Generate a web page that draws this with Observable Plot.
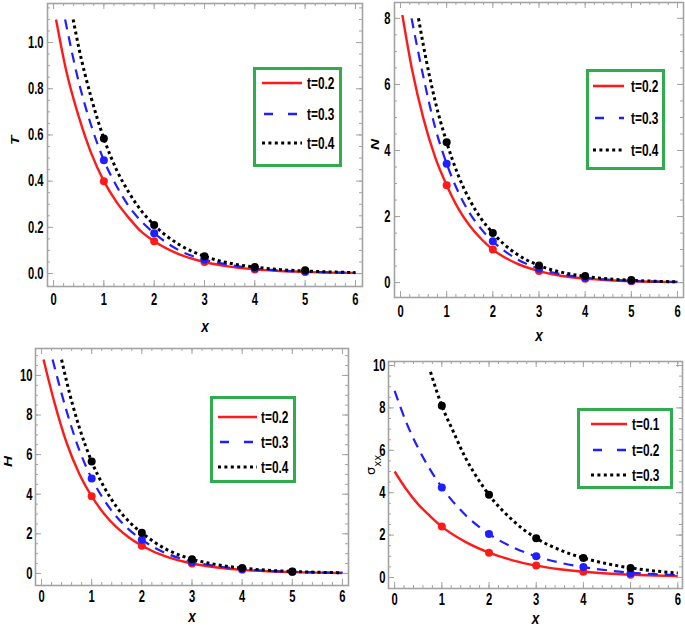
<!DOCTYPE html>
<html><head><meta charset="utf-8">
<script src="https://cdn.jsdelivr.net/npm/d3@7"></script>
<script src="https://cdn.jsdelivr.net/npm/@observablehq/plot@0.6"></script>
<style>
body{margin:0;background:#fff;}
#root{position:relative;width:685px;height:629px;overflow:hidden;background:#fff;}
#root svg.pl{position:absolute;}
.leg{position:absolute;border:3px solid #2fac4c;background:#fff;box-sizing:border-box;}
.leg svg{position:absolute;left:0;top:0;}
</style></head><body><div id="root"></div>
<script>
const FONT = '"Liberation Sans",Arial,sans-serif';
const dotX = [1, 2, 3, 4, 5];
const labelsA = ["t=0.2", "t=0.3", "t=0.4"];
const labelsS = ["t=0.1", "t=0.2", "t=0.3"];
const xTicks = [0, 1, 2, 3, 4, 5, 6];
const T_yTicks = [0, 0.2, 0.4, 0.6, 0.8, 1.0];
const N_yTicks = [0, 2, 4, 6, 8];
const H_yTicks = [0, 2, 4, 6, 8, 10];
const S_yTicks = [0, 2, 4, 6, 8, 10];

// Panel T
const T_red_x = [0.05,0.25,0.5,0.75,1,1.25,1.5,1.75,2,2.5,3,3.5,4,4.5,5,5.5,6];
const T_red_y = [1.10,0.88,0.68,0.52,0.40,0.31,0.24,0.18,0.14,0.083,0.05,0.03,0.018,0.011,0.007,0.004,0.003];
const T_blue_x = [0.23,0.5,0.75,1,1.25,1.5,1.75,2,2.5,3,3.5,4,4.5,5,5.5,6];
const T_blue_y = [1.10,0.83,0.64,0.49,0.38,0.29,0.225,0.175,0.10,0.06,0.037,0.022,0.013,0.008,0.005,0.003];
const T_black_x = [0.39,0.5,0.75,1,1.25,1.5,1.75,2,2.5,3,3.5,4,4.5,5,5.5,6];
const T_black_y = [1.10,0.98,0.76,0.585,0.45,0.35,0.27,0.21,0.125,0.075,0.045,0.028,0.017,0.011,0.007,0.004];
const T_dot_red = [0.40,0.14,0.05,0.018,0.007];
const T_dot_blue = [0.49,0.175,0.06,0.022,0.009];
const T_dot_black = [0.585,0.21,0.075,0.028,0.014];

// Panel N
const N_red_x = [0.04,0.25,0.5,0.75,1,1.25,1.5,1.75,2,2.5,3,3.5,4,4.5,5,5.5,6];
const N_red_y = [8.1,6.45,4.95,3.8,2.95,2.25,1.72,1.32,1.0,0.59,0.35,0.2,0.12,0.07,0.04,0.025,0.015];
const N_blue_x = [0.24,0.5,0.75,1,1.25,1.5,1.75,2,2.5,3,3.5,4,4.5,5,5.5,6];
const N_blue_y = [8.0,6.2,4.7,3.6,2.75,2.1,1.62,1.25,0.73,0.42,0.25,0.15,0.09,0.055,0.033,0.02];
const N_black_x = [0.39,0.5,0.75,1,1.25,1.5,1.75,2,2.5,3,3.5,4,4.5,5,5.5,6];
const N_black_y = [8.0,7.15,5.5,4.25,3.25,2.5,1.93,1.5,0.88,0.52,0.31,0.19,0.115,0.07,0.042,0.025];
const N_dot_red = [2.95,1.0,0.35,0.12,0.04];
const N_dot_blue = [3.6,1.25,0.42,0.15,0.06];
const N_dot_black = [4.25,1.5,0.52,0.2,0.08];

// Panel H
const H_red_x = [0.04,0.25,0.5,0.75,1,1.25,1.5,1.75,2,2.5,3,3.5,4,4.5,5,5.5,6];
const H_red_y = [10.8,8.7,6.6,5.05,3.9,3.0,2.32,1.8,1.4,0.83,0.5,0.3,0.18,0.11,0.065,0.04,0.025];
const H_blue_x = [0.22,0.5,0.75,1,1.25,1.5,1.75,2,2.5,3,3.5,4,4.5,5,5.5,6];
const H_blue_y = [10.8,8.2,6.25,4.8,3.7,2.85,2.2,1.7,1.0,0.6,0.36,0.22,0.13,0.08,0.05,0.03];
const H_black_x = [0.4,0.5,0.75,1,1.25,1.5,1.75,2,2.5,3,3.5,4,4.5,5,5.5,6];
const H_black_y = [10.8,9.7,7.4,5.65,4.35,3.35,2.6,2.05,1.2,0.72,0.44,0.27,0.16,0.1,0.06,0.035];
const H_dot_red = [3.9,1.4,0.5,0.18,0.07];
const H_dot_blue = [4.8,1.7,0.58,0.22,0.08];
const H_dot_black = [5.65,2.05,0.72,0.27,0.1];

// Panel sigma_xx
const S_red_x = [0,0.25,0.5,0.75,1,1.5,2,2.5,3,3.5,4,4.5,5,5.5,6];
const S_red_y = [5.0,4.15,3.45,2.9,2.4,1.68,1.17,0.81,0.56,0.39,0.27,0.19,0.13,0.09,0.065];
const S_blue_x = [0,0.25,0.5,0.75,1,1.5,2,2.5,3,3.5,4,4.5,5,5.5,6];
const S_blue_y = [8.8,7.3,6.1,5.1,4.25,2.95,2.05,1.43,1.0,0.7,0.49,0.34,0.22,0.16,0.11];
const S_black_x = [0.76,1,1.25,1.5,1.75,2,2.5,3,3.5,4,4.5,5,5.5,6];
const S_black_y = [9.7,8.1,6.85,5.65,4.7,3.9,2.7,1.85,1.3,0.92,0.65,0.45,0.31,0.21];
const S_dot_red = [2.4,1.17,0.56,0.27,0.13];
const S_dot_blue = [4.25,2.05,1.0,0.5,0.2];
const S_dot_black = [8.1,3.9,1.85,0.92,0.45];

const RED = "#ff1a1a", BLUE = "#1f1fff", BLACK = "#000";
const styles = [
  {color: RED, sw: 2.4, dash: null},
  {color: BLUE, sw: 2.2, dash: "10,7"},
  {color: BLACK, sw: 3, dash: "3,3.2"}
];
const FRAME = "#a3a3a3";

const root = document.getElementById("root");

function panel(p) {
  const m = {left: p.frame[0] - p.left, right: p.left + p.w - p.frame[1],
             top: p.frame[2] - p.top, bottom: p.top + p.h - p.frame[3]};
  const iw = p.w - m.left - m.right, ih = p.h - m.top - m.bottom;
  const marks = [];
  p.lines.forEach((s, k) => {
    const data = s[0].map((x, i) => ({x, y: s[1][i]}));
    marks.push(Plot.line(data, {x: "x", y: "y", stroke: styles[k].color, strokeWidth: styles[k].sw,
      strokeDasharray: styles[k].dash, strokeLinecap: "butt", curve: "monotone-x"}));
  });
  p.dots.forEach((d, k) => {
    const data = dotX.map((x, i) => ({x, y: d[i]}));
    marks.push(Plot.dot(data, {x: "x", y: "y", r: 4, fill: styles[k].color}));
  });
  const xMinor = d3.range(0, 6.001, 0.2).map(v => +v.toFixed(2));
  const yMinor = d3.range(p.yMinor[0], p.yMinor[1] + 1e-9, p.yMinor[2]).map(v => +v.toFixed(3));
  const ts = {stroke: FRAME, strokeWidth: 1};
  marks.push(
    Plot.tickX(p.xTicks, {x: d => d, insetTop: ih - 6, ...ts}),
    Plot.tickX(p.xTicks, {x: d => d, insetBottom: ih - 6, ...ts}),
    Plot.tickX(xMinor, {x: d => d, insetTop: ih - 3, ...ts}),
    Plot.tickX(xMinor, {x: d => d, insetBottom: ih - 3, ...ts}),
    Plot.tickY(p.yTicks, {y: d => d, insetRight: iw - 6, ...ts}),
    Plot.tickY(p.yTicks, {y: d => d, insetLeft: iw - 6, ...ts}),
    Plot.tickY(yMinor, {y: d => d, insetRight: iw - 3, ...ts}),
    Plot.tickY(yMinor, {y: d => d, insetLeft: iw - 3, ...ts}),
    Plot.frame({stroke: FRAME, strokeWidth: 1.6}),
    Plot.axisX({ticks: p.xTicks, tickSize: 0, tickPadding: p.xPad, label: null, tickFormat: d3.format("d")}),
    Plot.axisY({ticks: p.yTicks, tickSize: 0, tickPadding: p.yPad, label: null, tickFormat: p.yFmt}),
    Plot.text([p.xLabel], {frameAnchor: "bottom", dy: p.xLabelDy, fontStyle: "italic", fontWeight: "bold", fontSize: 16}),
    Plot.text([p.yLabel], {frameAnchor: "left", dx: p.yLabelDx, rotate: -90, fontStyle: p.yItalic ? "italic" : "normal",
      fontWeight: p.yItalic ? "bold" : "normal", fontSize: p.yLabelSize, fontFamily: p.yItalic ? FONT : '"DejaVu Sans",sans-serif'})
  );
  const svg = Plot.plot({
    width: p.w, height: p.h,
    marginLeft: m.left, marginRight: m.right, marginTop: m.top, marginBottom: m.bottom,
    x: {domain: p.xDomain},
    y: {domain: p.yDomain},
    style: {background: "transparent", overflow: "visible", fontFamily: FONT, fontSize: "16.5px", fontWeight: "bold", color: "#000", maxWidth: "none"},
    marks
  });
  svg.classList.add("pl");
  svg.style.left = p.left + "px";
  svg.style.top = p.top + "px";
  svg.querySelectorAll("text").forEach(t => {
    const tr = t.getAttribute("transform");
    const c = t.textContent;
    if (c === "σxx") {
      t.textContent = "σ";
      const sp = document.createElementNS("http://www.w3.org/2000/svg", "tspan");
      sp.setAttribute("baseline-shift", "sub");
      sp.setAttribute("font-size", "10");
      sp.textContent = "xx";
      t.appendChild(sp);
      return;
    }
    if (!tr) return;
    let sc = "scale(0.68,1)";
    if (c === p.xLabel) sc = "scale(0.85,1)";
    else if (c === p.yLabel) sc = "scale(1.1,0.72)";
    t.setAttribute("transform", `${tr} ${sc}`);
  });
  root.appendChild(svg);

  // legend
  const L = p.legend;
  const div = document.createElement("div");
  div.className = "leg";
  Object.assign(div.style, {left: L.x0 + "px", top: L.y0 + "px", width: (L.x1 - L.x0) + "px", height: (L.y1 - L.y0) + "px"});
  const lsvg = d3.create("svg").attr("width", L.x1 - L.x0).attr("height", L.y1 - L.y0)
    .style("left", "-3px").style("top", "-3px").style("overflow", "visible");
  p.labels.forEach((lab, k) => {
    const cy = L.rows[k] - L.y0;
    lsvg.append("line").attr("x1", L.lx0 - L.x0).attr("x2", L.lx1 - L.x0).attr("y1", cy).attr("y2", cy)
      .attr("stroke", styles[k].color).attr("stroke-width", styles[k].sw + 0.2)
      .attr("stroke-dasharray", k === 1 ? "0,2,9,13" : k === 2 ? "3,3.4" : null);
    lsvg.append("text").attr("transform", `translate(${L.tx - L.x0},${cy}) scale(0.7,1)`).attr("dy", "0.36em")
      .attr("font-family", FONT).attr("font-weight", "bold").attr("font-size", 17).text(lab);
  });
  div.appendChild(lsvg.node());
  root.appendChild(div);
}

panel({left: 0, top: 0, w: 372, h: 340, frame: [47, 362, 3, 286],
  xDomain: [-0.12, 6.14], yDomain: [-0.056, 1.169],
  xTicks, yTicks: T_yTicks, yMinor: [0, 1.15, 0.05], yFmt: d3.format(".1f"), xPad: 7, yPad: 4,
  xLabel: "x", xLabelDy: 45, yLabel: "T", yLabelDx: -32, yItalic: true, yLabelSize: 14,
  lines: [[T_red_x, T_red_y], [T_blue_x, T_blue_y], [T_black_x, T_black_y]],
  dots: [T_dot_red, T_dot_blue, T_dot_black], labels: labelsA,
  legend: {x0: 253, x1: 342, y0: 67, y1: 167, rows: [83, 114, 143], lx0: 262, lx1: 302, tx: 307}});

panel({left: 345, top: 0, w: 340, h: 345, frame: [394, 683, 2, 297],
  xDomain: [-0.13, 6.13], yDomain: [-0.45, 8.48],
  xTicks, yTicks: N_yTicks, yMinor: [0, 8.4, 0.5], yFmt: d3.format("d"), xPad: 8, yPad: 4,
  xLabel: "x", xLabelDy: 43, yLabel: "N", yLabelDx: -19, yItalic: true, yLabelSize: 14,
  lines: [[N_red_x, N_red_y], [N_blue_x, N_blue_y], [N_black_x, N_black_y]],
  dots: [N_dot_red, N_dot_blue, N_dot_black], labels: labelsA,
  legend: {x0: 586, x1: 665, y0: 69, y1: 170, rows: [86, 118, 150], lx0: 593, lx1: 624, tx: 631}});

panel({left: 0, top: 340, w: 372, h: 289, frame: [35, 348, 348, 585],
  xDomain: [-0.12, 6.12], yDomain: [-0.61, 11.36],
  xTicks, yTicks: H_yTicks, yMinor: [0, 11, 0.5], yFmt: d3.format("d"), xPad: 5, yPad: 3,
  xLabel: "x", xLabelDy: 36, yLabel: "H", yLabelDx: -27, yItalic: true, yLabelSize: 14,
  lines: [[H_red_x, H_red_y], [H_blue_x, H_blue_y], [H_black_x, H_black_y]],
  dots: [H_dot_red, H_dot_blue, H_dot_black], labels: labelsA,
  legend: {x0: 210, x1: 296, y0: 396, y1: 483, rows: [417, 442, 467], lx0: 218, lx1: 257, tx: 261}});

panel({left: 345, top: 340, w: 340, h: 289, frame: [388, 682, 361, 588],
  xDomain: [-0.13, 6.1], yDomain: [-0.52, 10.19],
  xTicks, yTicks: S_yTicks, yMinor: [0, 10, 0.5], yFmt: d3.format("d"), xPad: 5, yPad: 3,
  xLabel: "x", xLabelDy: 35, yLabel: "σxx", yLabelDx: -18, yItalic: false, yLabelSize: 13,
  lines: [[S_red_x, S_red_y], [S_blue_x, S_blue_y], [S_black_x, S_black_y]],
  dots: [S_dot_red, S_dot_blue, S_dot_black], labels: labelsS,
  legend: {x0: 577, x1: 673, y0: 408, y1: 489, rows: [424, 450, 475], lx0: 591, lx1: 627, tx: 632}});
</script></body></html>
